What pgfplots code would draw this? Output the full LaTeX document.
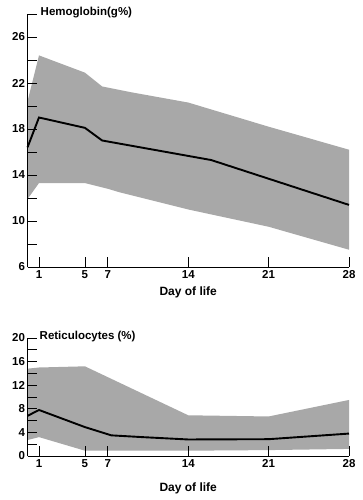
\documentclass[border=0pt]{standalone}
\usepackage{fontspec}
\setmainfont{Liberation Sans}
\usepackage{pgfplots}
\pgfplotsset{compat=1.18}
\definecolor{band}{gray}{0.66}
\begin{document}
\begin{tikzpicture}
\useasboundingbox (0pt,0pt) rectangle (362pt,500pt);
\pgfplotsset{
 myax/.style={
   scale only axis, width=321.5pt,
   xmin=0, xmax=28,
   axis x line=bottom, axis y line=left,
   axis line style={-, line width=0.8pt},
   axis on top,
   tick align=inside, major tick length=9.5pt,
   tick style={black, line width=0.8pt},
   xtick={1,5,7,14,21,28},
   /pgf/number format/assume math mode=true,
   ticklabel style={font=\fontsize{11.5}{13}\selectfont\bfseries},
   yticklabel style={xshift=1pt},
   xlabel={Day of life},
   xlabel style={font=\fontsize{12}{14}\selectfont\bfseries, at={(axis description cs:0.5,0)}, anchor=center},
   clip=false,
 }
}
% Hemoglobin
\begin{axis}[myax, at={(27.5pt,233pt)}, anchor=south west, height=253pt,
  ymin=6, ymax=28, ytick={6,8,...,28}, yticklabels={6,,10,,14,,18,,22,,26,},
  xlabel style={yshift=-25pt}]
\addplot[draw=none, fill=band] coordinates {
 (0,20.4) (1,24.4) (5,22.9) (6.5,21.7) (9,21.2) (14,20.3) (21,18.2) (28,16.2)
 (28,7.5) (21,9.5) (14,11.0) (8,12.5) (7,12.8) (5,13.3) (1,13.3) (0,11.9)};
\addplot[black, line width=1.9pt] coordinates {
 (0,16.4) (1,19.0) (5,18.1) (6.5,17.0) (16,15.3) (28,11.4)};
\node[anchor=west, inner sep=0pt, font=\fontsize{11.5}{13}\selectfont\bfseries, xshift=13pt, yshift=1.5pt] at (axis cs:0,28) {Hemoglobin(g\%)};
\end{axis}
% Reticulocytes
\begin{axis}[myax, at={(27.5pt,44pt)}, anchor=south west, height=118pt,
  ymin=0, ymax=20, ytick={0,2,...,20}, yticklabels={0,,4,,8,,12,,16,,20},
  xlabel style={yshift=-32pt}]
\addplot[draw=none, fill=band] coordinates {
 (0,14.8) (1,15.0) (5,15.2) (14,6.9) (21,6.7) (28,9.5)
 (28,1.2) (21,1.0) (14,0.9) (5,0.9) (1,3.2) (0,2.7)};
\addplot[black, line width=1.9pt] coordinates {
 (0,6.8) (1,7.8) (5,4.9) (7.3,3.5) (10,3.2) (14,2.8) (21,2.85) (28,3.8)};
\node[anchor=west, inner sep=0pt, font=\fontsize{11.5}{13}\selectfont\bfseries, xshift=12pt, yshift=1.5pt] at (axis cs:0,20) {Reticulocytes (\%)};
\end{axis}
\end{tikzpicture}
\end{document}
